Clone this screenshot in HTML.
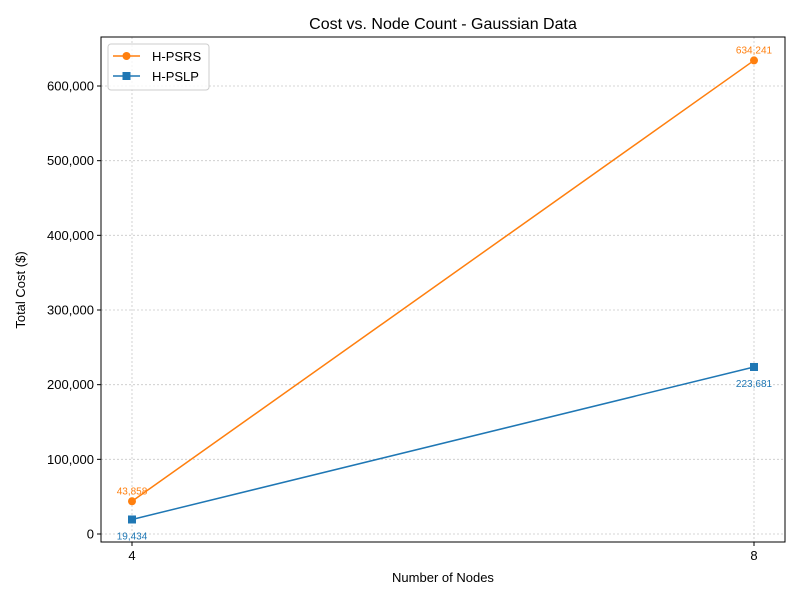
<!DOCTYPE html>
<html><head><meta charset="utf-8"><style>
body{margin:0;background:#fff;font-family:"Liberation Sans","DejaVu Sans",sans-serif}
</style></head><body>
<svg id="chart" width="800" height="600" xmlns="http://www.w3.org/2000/svg">
<rect width="800" height="600" fill="#fff"/>
<g id="grid"></g>
<g id="axes"></g>
<g id="series"></g>
<text x="443" y="29" text-anchor="middle" font-size="16">Cost vs. Node Count - Gaussian Data</text>
<text x="443" y="582" text-anchor="middle" font-size="13">Number of Nodes</text>
<text x="25" y="290" text-anchor="middle" font-size="13" transform="rotate(-90 25 290)">Total Cost ($)</text>
<g>
<rect x="108" y="44" width="101" height="46" rx="3" fill="#fff" fill-opacity="0.8" stroke="#ccc"/>
<g>
<line x1="113" y1="56" x2="140" y2="56" stroke="#ff7f0e" stroke-width="1.5"/><circle cx="126.5" cy="56" r="4" fill="#ff7f0e"/>
<text x="152" y="61" font-size="13">H-PSRS</text></g>
<g>
<line x1="113" y1="76" x2="140" y2="76" stroke="#1f77b4" stroke-width="1.5"/><rect x="122.5" y="72" width="8" height="8" fill="#1f77b4"/>
<text x="152" y="81" font-size="13">H-PSLP</text></g>
</g>
</svg>
<script>
const categories=[4,8];
const psrs=[43858,634241];
const pslp=[19434,223681];
const yTicks=[0,100000,200000,300000,400000,500000,600000];
const NS="http://www.w3.org/2000/svg";
const L=101,R=785,T=37,B=542;
function xs(v){return 132+(v-4)*(754-132)/4;}
function ys(v){return 534-v*(534-86)/600000;}
function mk(t,a,p){const e=document.createElementNS(NS,t);for(const k in a)e.setAttribute(k,a[k]);p.appendChild(e);return e;}
const fmt=v=>v.toLocaleString('en-US');
const grid=document.getElementById('grid'),axes=document.getElementById('axes'),ser=document.getElementById('series');
yTicks.forEach(v=>{const y=ys(v);
const g=mk('line',{x1:L,x2:R,y1:y,y2:y,stroke:'#b0b0b0','stroke-width':0.8,'stroke-dasharray':'2,2','stroke-opacity':0.7},grid);


mk('line',{x1:L-4,x2:L,y1:y,y2:y,stroke:'#000'},axes);
const t=mk('text',{x:L-7,y:y+4.5,'text-anchor':'end','font-size':13},axes);t.textContent=fmt(v);

});
categories.forEach(c=>{const x=xs(c);
const g=mk('line',{x1:x,x2:x,y1:T,y2:B,stroke:'#b0b0b0','stroke-width':0.8,'stroke-dasharray':'2,2','stroke-opacity':0.7},grid);


mk('line',{x1:x,x2:x,y1:B,y2:B+4,stroke:'#000'},axes);
const t=mk('text',{x:x,y:B+18,'text-anchor':'middle','font-size':13},axes);t.textContent=c;

});
mk('rect',{x:L,y:T,width:R-L,height:B-T,fill:'none',stroke:'#000','stroke-width':1},axes);
function draw(vals,color,sq,name,above){
const pts=categories.map((c,i)=>xs(c)+','+ys(vals[i])).join(' ');
const pl=mk('polyline',{points:pts,fill:'none',stroke:color,'stroke-width':1.5},ser);


categories.forEach((c,i)=>{const x=xs(c),y=ys(vals[i]);let m;
if(sq)m=mk('rect',{x:x-4,y:y-4,width:8,height:8,fill:color},ser);else m=mk('circle',{cx:x,cy:y,r:4,fill:color},ser);


const t=mk('text',{x:x,y:above?y-7:y+20,'text-anchor':'middle','font-size':10,fill:color},ser);t.textContent=fmt(vals[i]);

});}
draw(psrs,'#ff7f0e',false,'h-psrs',true);
draw(pslp,'#1f77b4',true,'h-pslp',false);
</script>
</body></html>
